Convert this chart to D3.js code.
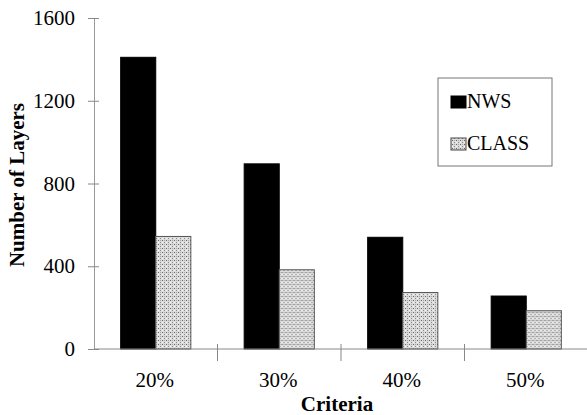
<!DOCTYPE html>
<html><head><meta charset="utf-8">
<script src="https://cdn.jsdelivr.net/npm/d3@7"></script>
</head><body style="margin:0;background:#fff">
<script>
const categories = ["20%","30%","40%","50%"];
const seriesNames = ["NWS","CLASS"];
const nwsValues = [1410, 895, 540, 256];
const classValues = [544, 383, 273, 185];
const yTicks = [0, 400, 800, 1200, 1600];

const FONT = '"Liberation Serif", "Noto Serif CJK SC", serif';

const W = 587, H = 415;
const svg = d3.select("body").append("svg").attr("width", W).attr("height", H).style("display","block");
const defs = svg.append("defs");
const pat = defs.append("pattern").attr("id","stip").attr("patternUnits","userSpaceOnUse").attr("width",4).attr("height",4);
pat.append("rect").attr("width",4).attr("height",4).attr("fill","#dcdcdc");
pat.append("rect").attr("x",0).attr("y",0).attr("width",1).attr("height",1).attr("fill","#666");
pat.append("rect").attr("x",2).attr("y",2).attr("width",1).attr("height",1).attr("fill","#888");
pat.append("rect").attr("x",2).attr("y",0).attr("width",1).attr("height",1).attr("fill","#aaa");
pat.append("rect").attr("x",0).attr("y",2).attr("width",1).attr("height",1).attr("fill","#f4f4f4");

const x0 = d3.scaleBand().domain(categories).range([94, 588]).paddingInner(0).paddingOuter(0);
const x1 = d3.scaleBand().domain(seriesNames).range([0, x0.bandwidth()]).paddingInner(0).paddingOuter(0.76);
const y = d3.scaleLinear().domain([0, 1600]).range([349, 18]);

const data = categories.map((c, i) => ({cat: c, vals: [{s: "NWS", v: nwsValues[i]}, {s: "CLASS", v: classValues[i]}]}));

function txt(sel, size, bold) {
  return sel.style("font-family", FONT, "important").style("font-size", size + "px", "important")
    .style("font-weight", bold ? "bold" : "normal", "important").style("fill", "#000");
}

// bars
const g = svg.append("g");
g.selectAll("g.grp").data(data).join("g").attr("class","grp")
  .attr("transform", d => `translate(${x0(d.cat)},0)`)
  .selectAll("rect").data(d => d.vals).join("rect")
  .attr("x", d => x1(d.s)).attr("width", x1.bandwidth())
  .attr("y", d => y(d.v)).attr("height", d => y(0) - y(d.v))
  .attr("fill", d => d.s === "NWS" ? "#000" : "url(#stip)")
  .attr("stroke", d => d.s === "NWS" ? "#000" : "#555")
  .attr("stroke-width", 1);

// y axis
const ya = svg.append("g").attr("transform","translate(94,0)")
  .call(d3.axisLeft(y).tickValues(yTicks).tickSize(6).tickFormat(d3.format("d")).tickPadding(13));
ya.attr("font-family", null).attr("font-size", null);
ya.select(".domain").attr("stroke","#999");
ya.selectAll(".tick line").attr("x1", 5).attr("x2", -6).attr("stroke","#888");
txt(ya.selectAll(".tick text"), 21, false);

// x axis
const xa = svg.append("g").attr("transform","translate(0,349)");
xa.append("line").attr("x1",94).attr("x2",587).attr("stroke","#888");
xa.selectAll("line.tk").data(categories).join("line").attr("class","tk")
  .attr("x1", d => x0(d) + x0.bandwidth()).attr("x2", d => x0(d) + x0.bandwidth())
  .attr("y1", -5).attr("y2", 12).attr("stroke","#888");
txt(xa.selectAll("text").data(categories).join("text")
  .attr("x", d => x0(d) + x0.bandwidth()/2 - 1).attr("y", 38)
  .attr("text-anchor","middle"), 21, false).text(d => d);

// titles
txt(svg.append("text").attr("x", 337).attr("y", 411).attr("text-anchor","middle"), 21, true).text("Criteria");
txt(svg.append("text").attr("transform","translate(24,185) rotate(-90)").attr("text-anchor","middle"), 21, true).text("Number of Layers");

// legend
const lg = svg.append("g");
lg.append("rect").attr("x",438).attr("y",78).attr("width",114).attr("height",88)
  .attr("fill","#fff").attr("stroke","#777").attr("stroke-width",1);
const items = seriesNames.map((s,i) => ({s, y: [96,138][i]}));
lg.selectAll("rect.sw").data(items).join("rect").attr("class","sw")
  .attr("x",451).attr("y", d => d.y).attr("width",15).attr("height",12)
  .attr("fill", d => d.s === "NWS" ? "#000" : "url(#stip)")
  .attr("stroke", d => d.s === "NWS" ? "#000" : "#444");
txt(lg.selectAll("text").data(items).join("text")
  .attr("x",467).attr("y", d => d.y + 12), 20, false).text(d => d.s);
</script>
</body></html>
